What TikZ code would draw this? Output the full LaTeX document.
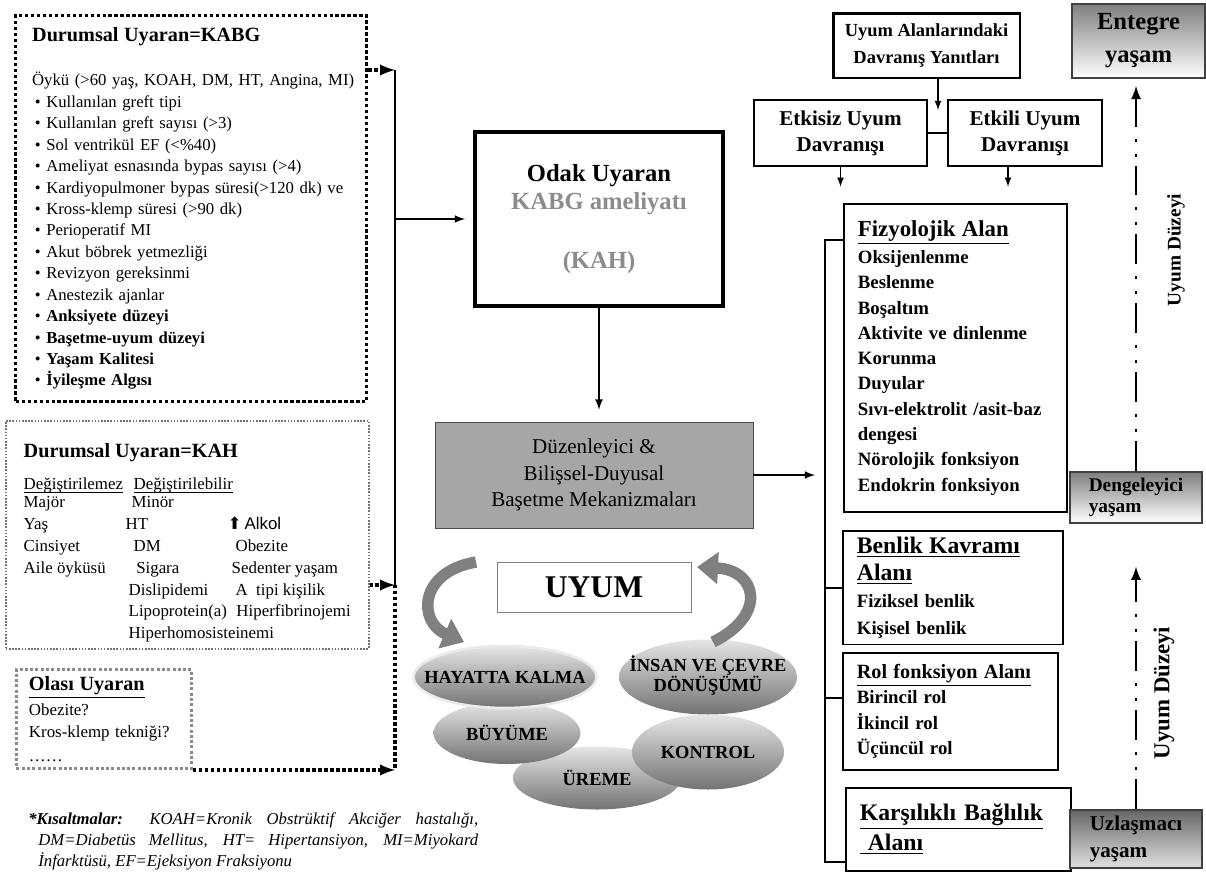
\documentclass[tikz,border=0pt]{standalone}
\usepackage{fontspec}
\usepackage{array}
\setmainfont{Liberation Serif}
\newfontfamily\arrowfont{DejaVu Sans}
\newfontfamily\alkolfont{Liberation Sans}
\usetikzlibrary{arrows,arrows.meta,shapes.geometric}
\hyphenpenalty=10000

\begin{document}
\begin{tikzpicture}[x=0.02cm,y=-0.02cm,
  bigdots/.style={line width=1.9pt,dash pattern=on 1.9pt off 1.5pt},
  alanbox/.style={draw,line width=1pt,anchor=north west,align=left,inner xsep=0.28cm,
    font=\fontsize{10.7}{14.4}\selectfont\bfseries},
  yasambox/.style={draw=black!75,line width=1pt,top color=black!50,bottom color=white},
  bubble/.style={ellipse,inner sep=0pt,top color=black!10,bottom color=black!55,
    font=\fontsize{10.5}{12.5}\selectfont\bfseries},
  dashdot/.style={line width=1.6pt,dash pattern=on 0.6cm off 0.18cm on 0.06cm off 0.24cm on 0.06cm off 0.24cm},
  blockarrow/.style={line width=6.5pt,black!50,-{Triangle[length=0.42cm,width=0.62cm]}}]
\useasboundingbox (0,0) rectangle (1206,873);

\node[draw,bigdots,anchor=north west,align=left,text width=6.36cm,inner xsep=0.33cm,
  minimum height=7.72cm,font=\fontsize{9.5}{12.2}\selectfont] (1) at (14,14)
{{\fontsize{11.5}{13}\selectfont\bfseries Durumsal Uyaran=KABG}\\[13pt]
\mbox{Öykü (>60 yaş, KOAH, DM, HT, Angina, MI)}\\
\,\textbullet\ Kullanılan greft tipi\\
\,\textbullet\ Kullanılan greft sayısı (>3)\\
\,\textbullet\ Sol ventrikül EF (<\%40)\\
\,\textbullet\ Ameliyat esnasında bypas sayısı (>4)\\
\mbox{\,\textbullet\ Kardiyopulmoner bypas süresi(>120 dk) ve}\\
\,\textbullet\ Kross-klemp süresi (>90 dk)\\
\,\textbullet\ Perioperatif MI\\
\,\textbullet\ Akut böbrek yetmezliği\\
\,\textbullet\ Revizyon gereksinmi\\
\,\textbullet\ Anestezik ajanlar\\
\,\textbullet\ \textbf{Anksiyete düzeyi}\\
\,\textbullet\ \textbf{Başetme-uyum düzeyi}\\
\,\textbullet\ \textbf{Yaşam Kalitesi}\\
\,\textbullet\ \textbf{İyileşme Algısı}};

\node[draw=black!55,line width=0.9pt,dash pattern=on 0.9pt off 0.9pt,anchor=north west,
  inner xsep=0.3cm,minimum width=7.26cm,minimum height=4.56cm,font=\fontsize{9.6}{12.4}\selectfont] (4) at (5,420)
{\raisebox{0pt}[\height][\dimexpr\depth-0.36cm]{\begin{tabular}{@{}w{l}{2.04cm}@{}w{l}{2.04cm}@{}l@{}}
\multicolumn{3}{@{}l@{}}{\fontsize{11.5}{13}\selectfont\bfseries Durumsal Uyaran=KAH}\\[6pt]
\underline{\smash{Değiştirilemez}} & \hspace{4.5pt}\underline{\smash{Değiştirilebilir}} & \\[-2.7pt]
Majör & \hspace{3.4pt}Minör & \\[0.5pt]
Yaş & HT & {\arrowfont ⬆}\,{\alkolfont Alkol}\\
Cinsiyet & \hspace{4.5pt}DM & \hspace{4.5pt}Obezite\\
Aile öyküsü & \hspace{6pt}Sigara & \hspace{2.3pt}Sedenter yaşam\\
 & \hspace{1.7pt}Dislipidemi & \hspace{4.5pt}A\ \ tipi kişilik\\
 & \hspace{1.7pt}Lipoprotein(a) & \hspace{5pt}Hiperfibrinojemi\\
 & \hspace{1.7pt}Hiperhomosisteinemi &
\end{tabular}}};

\node[draw=black!45,line width=1.7pt,dash pattern=on 1.7pt off 1.3pt,anchor=north west,align=left,
  text width=3.0cm,inner xsep=0.25cm,minimum height=1.98cm,font=\fontsize{9.6}{11.5}\selectfont] (5) at (15,668)
{{\fontsize{11.5}{13}\selectfont\bfseries\underline{Olası Uyaran}}\\[2.5pt]
Obezite?\\[1pt]
Kros-klemp tekniği?\\[2pt]
……};

\node[draw,line width=2.3pt,minimum width=4.96cm,minimum height=3.48cm,align=center,
  font=\fontsize{14}{16.5}\selectfont\bfseries] (2) at (599,219)
{Odak Uyaran\\\textcolor{black!45}{KABG ameliyatı}\\[17pt]\textcolor{black!45}{(KAH)}};

\node[draw=black!70,fill=black!35,minimum width=6.36cm,minimum height=2.12cm,align=center,
  font=\fontsize{12}{15.3}\selectfont] (3) at (594,475)
{Düzenleyici \&\\Bilişsel-Duyusal\\Başetme Mekanizmaları};

\coordinate (v1) at (395,70);
\coordinate (v2) at (395,585);
\draw[bigdots,->,>=latex] (1.east |- v1) -- (v1);
\draw[line width=1pt] (v1) -- (v2);
\draw[bigdots,->,>=latex] (4.east |- v2) -- (v2);
\draw[bigdots] (v2) -- (5.south east -| v2);
\draw[bigdots,->,>=latex] (5.south east) -- (5.south east -| v2);
\draw[->,>=latex,line width=1pt,shorten >=0.16cm] (v1 |- 2.west) -- (2.west);
\draw[->,>=latex,line width=1pt,shorten >=0.24cm] (2.south) -- (2.south |- 3.north);

\node[draw=black!50,minimum width=3.88cm,minimum height=1cm,font=\fontsize{18}{20}\selectfont\bfseries] (16) at (594,587) {UYUM};

\node[bubble,minimum width=3.56cm,minimum height=1.5cm] (21) at (708,677)
{\makebox[0pt]{\begin{tabular}{@{}c@{}}İNSAN VE ÇEVRE\\[-1pt]DÖNÜŞÜMÜ\end{tabular}}};
\node[bubble,minimum width=3.36cm,minimum height=1.26cm] (19) at (597,778) {\makebox[0pt]{ÜREME}};
\node[bubble,minimum width=3.04cm,minimum height=1.5cm] (20) at (708,752) {\makebox[0pt]{KONTROL}};
\node[bubble,minimum width=2.94cm,minimum height=1.24cm] (18) at (507,733) {\makebox[0pt]{BÜYÜME}};
\node[bubble,draw=black!8,line width=1.5pt,minimum width=3.66cm,minimum height=1.24cm] (17) at (505,677) {\makebox[0pt]{HAYATTA KALMA}};

\coordinate (a1) at (476,562);
\coordinate (a2) at (464,642);
\coordinate (a3) at (713,642);
\coordinate (a4) at (697,567);
\draw[blockarrow] (a1) .. controls (418,572) and (418,622) .. (a2);
\draw[blockarrow] (a3) .. controls (768,615) and (757,570) .. (a4);

\node[draw,line width=1.7pt,minimum width=3.74cm,minimum height=1.3cm,align=center,
  font=\fontsize{10.5}{15.3}\selectfont\bfseries] (10) at (926.5,45.5)
{Uyum Alanlarındaki\\Davranış Yanıtları};
\node[draw,line width=0.8pt,minimum width=3.46cm,minimum height=1.32cm,align=center,
  font=\fontsize{12}{14.7}\selectfont\bfseries] (11) at (840.5,133) {Etkisiz Uyum\\Davranışı};
\node[draw,line width=0.8pt,minimum width=3.08cm,minimum height=1.32cm,align=center,
  font=\fontsize{12}{14.7}\selectfont\bfseries] (12) at (1025,133) {Etkili Uyum\\Davranışı};
\coordinate (c1) at (938,110);
\draw[->,>=latex,line width=0.8pt] (c1 |- 10.south) -- (c1);
\draw[line width=0.8pt] (11) -- (12);
\draw[->,>=latex,line width=0.8pt] (11.south) -- ++(0,20);
\draw[->,>=latex,line width=0.8pt] ([xshift=-0.34cm]12.south) -- ++(0,20);

\node[alanbox,text width=3.9cm,minimum height=6.16cm] (6) at (843,203)
{{\fontsize{13}{15}\selectfont\underline{Fizyolojik Alan}}\\[1pt]
Oksijenlenme\\Beslenme\\Boşaltım\\Aktivite ve dinlenme\\Korunma\\Duyular\\
Sıvı-elektrolit /asit-baz\\dengesi\\Nörolojik fonksiyon\\Endokrin fonksiyon};
\node[alanbox,text width=3.84cm,minimum height=2.14cm,font=\fontsize{10.7}{15.3}\selectfont\bfseries] (7) at (842,530)
{{\fontsize{13.5}{15}\selectfont\underline{Benlik Kavramı}}\\[0.5pt]
{\fontsize{13.5}{15}\selectfont\underline{Alanı}}\\Fiziksel benlik\\Kişisel benlik};
\node[alanbox,text width=3.74cm,minimum height=2.34cm] (8) at (842,652)
{{\fontsize{11.5}{13}\selectfont\underline{Rol fonksiyon Alanı}}\\Birincil rol\\İkincil rol\\Üçüncül rol};
\node[alanbox,text width=3.94cm,minimum height=1.66cm,font=\fontsize{13.5}{17}\selectfont\bfseries] (9) at (845,787)
{\underline{Karşılıklı Bağlılık}\\\underline{\ Alanı}};

\coordinate (k0) at (815,475);
\coordinate (k1) at (825,240);
\coordinate (k2) at (825,862);
\coordinate (k3) at (825,698);
\draw[->,>=latex,line width=1pt] (3.east) -- (k0);
\draw[line width=1.1pt] (k1 -| 6.west) -- (k1) -- (k2) -- (k2 -| 9.west);
\draw[line width=1.1pt] (k1 |- 7.west) -- (7.west);
\draw[line width=1.1pt] (k3) -- (k3 -| 8.west);

\node[yasambox,minimum width=2.66cm,minimum height=1.48cm,align=center,
  font=\fontsize{14}{18.7}\selectfont\bfseries] (13) at (1138.5,41) {Entegre\\yaşam};
\node[yasambox,minimum width=2.64cm,minimum height=0.98cm,align=left,
  font=\fontsize{11}{12}\selectfont\bfseries] (14) at (1136,497.5) {Dengeleyici\\ yaşam};
\node[yasambox,top color=black!60,bottom color=black!12,minimum width=2.64cm,minimum height=1.16cm,align=left,
  font=\fontsize{12}{15}\selectfont\bfseries] (15) at (1136,839) {Uzlaşmacı\\yaşam};

\draw[dashdot,->,>=latex,shorten >=0.14cm] (14.north) -- (14.north |- 13.south);
\draw[dashdot,->,>=latex,shorten >=0.86cm] (15.north) -- (15.north |- 14.south);

\node[rotate=90,font=\fontsize{11}{13}\selectfont\bfseries] (22) at (1176,250) {Uyum Düzeyi};
\node[rotate=90,font=\fontsize{13}{15}\selectfont\bfseries] (23) at (1164,693) {Uyum Düzeyi};

\node[anchor=north west,align=left,inner sep=0pt,font=\fontsize{9.5}{12.2}\selectfont\itshape] (24) at (28,812)
{\makebox[9cm][s]{\textbf{*Kısaltmalar:} KOAH=Kronik Obstrüktif Akciğer hastalığı,}\\
\hspace*{0.2cm}\makebox[8.8cm][s]{DM=Diabetüs Mellitus, HT= Hipertansiyon, MI=Miyokard}\\
\hspace*{0.2cm}İnfarktüsü, EF=Ejeksiyon Fraksiyonu};
\end{tikzpicture}
\end{document}
